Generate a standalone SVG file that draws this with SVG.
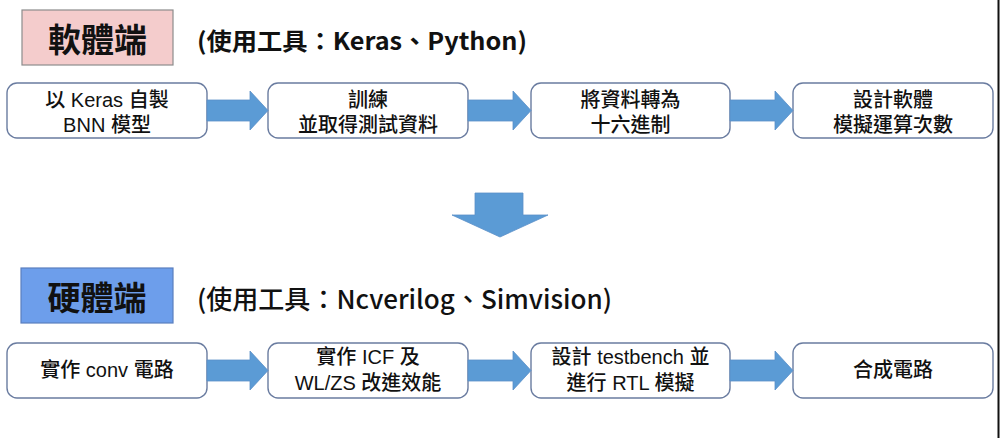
<svg xmlns="http://www.w3.org/2000/svg" width="1001" height="438" viewBox="0 0 1001 438">
<defs>
<style>
.box{fill:#ffffff;stroke:#6a7ca0;stroke-width:1.4}
.t{font-family:"Liberation Sans","Noto Sans CJK TC",sans-serif;font-size:20px;font-weight:500;fill:#111;text-anchor:middle;dominant-baseline:central}
.hd{font-family:"Noto Sans CJK TC","Noto Sans",sans-serif;font-weight:700;fill:#111;dominant-baseline:central}
.hd2{font-family:"Noto Sans CJK TC","Noto Sans",sans-serif;font-weight:500;fill:#111;dominant-baseline:central}
.arr{fill:#5b9bd5;stroke:#5a8fc8;stroke-width:0.8}
</style>
</defs>
<rect x="0" y="0" width="1001" height="438" fill="#ffffff"/>
<rect x="997.5" y="0" width="2" height="438" fill="#111"/>

<g id="sw-title">
<rect x="22" y="10" width="151" height="55" fill="#f4cccc" stroke="#8c8c8c" stroke-width="1.2"/>
<text class="hd" x="97.5" y="38" font-size="33" text-anchor="middle">軟體端</text>
</g>
<g id="sw-tools">
<text class="hd" x="197" y="39" font-size="24" textLength="330" lengthAdjust="spacingAndGlyphs">(使用工具：Keras、Python)</text>
</g>

<g id="hw-title">
<rect x="21" y="268" width="152" height="55" fill="#6d9eeb" stroke="#5b7fbf" stroke-width="1.2"/>
<text class="hd" x="97" y="296" font-size="33" text-anchor="middle">硬體端</text>
</g>
<g id="hw-tools">
<text class="hd2" x="197" y="297" font-size="26" textLength="415" lengthAdjust="spacingAndGlyphs">(使用工具：Ncverilog、Simvision)</text>
</g>

<g id="s1"><rect class="box" x="7" y="83" width="200" height="55" rx="10"/>
<text class="t" x="107" y="100">以 Keras 自製</text><text class="t" x="107" y="125">BNN 模型</text></g>
<g id="s2"><rect class="box" x="268" y="83" width="200" height="55" rx="10"/>
<text class="t" x="368" y="100">訓練</text><text class="t" x="368" y="125">並取得測試資料</text></g>
<g id="s3"><rect class="box" x="531" y="83" width="199" height="55" rx="10"/>
<text class="t" x="630.5" y="100">將資料轉為</text><text class="t" x="630.5" y="125">十六進制</text></g>
<g id="s4"><rect class="box" x="793" y="83" width="200" height="55" rx="10"/>
<text class="t" x="893" y="100">設計軟體</text><text class="t" x="893" y="125">模擬運算次數</text></g>

<g id="h1"><rect class="box" x="7" y="343" width="200" height="55" rx="10"/>
<text class="t" x="107" y="370">實作 conv 電路</text></g>
<g id="h2"><rect class="box" x="268" y="343" width="200" height="55" rx="10"/>
<text class="t" x="368" y="357">實作 ICF 及</text><text class="t" x="368" y="383">WL/ZS 改進效能</text></g>
<g id="h3"><rect class="box" x="531" y="343" width="199" height="55" rx="10"/>
<text class="t" x="630.5" y="357">設計 testbench 並</text><text class="t" x="630.5" y="383">進行 RTL 模擬</text></g>
<g id="h4"><rect class="box" x="793" y="343" width="200" height="55" rx="10"/>
<text class="t" x="893" y="370">合成電路</text></g>

<g id="connectors">
<polygon class="arr" points="207,100 250,100 250,91 268,110.5 250,130 250,121 207,121"/>
<polygon class="arr" points="468,100 513,100 513,91 531,110.5 513,130 513,121 468,121"/>
<polygon class="arr" points="730,100 775,100 775,91 793,110.5 775,130 775,121 730,121"/>
<polygon class="arr" points="207,360 250,360 250,351 268,370.5 250,390 250,381 207,381"/>
<polygon class="arr" points="468,360 513,360 513,351 531,370.5 513,390 513,381 468,381"/>
<polygon class="arr" points="730,360 775,360 775,351 793,370.5 775,390 775,381 730,381"/>
<polygon class="arr" points="475,193 523,193 523,215 548,215 500,237 452,215 475,215"/>
</g>
</svg>
